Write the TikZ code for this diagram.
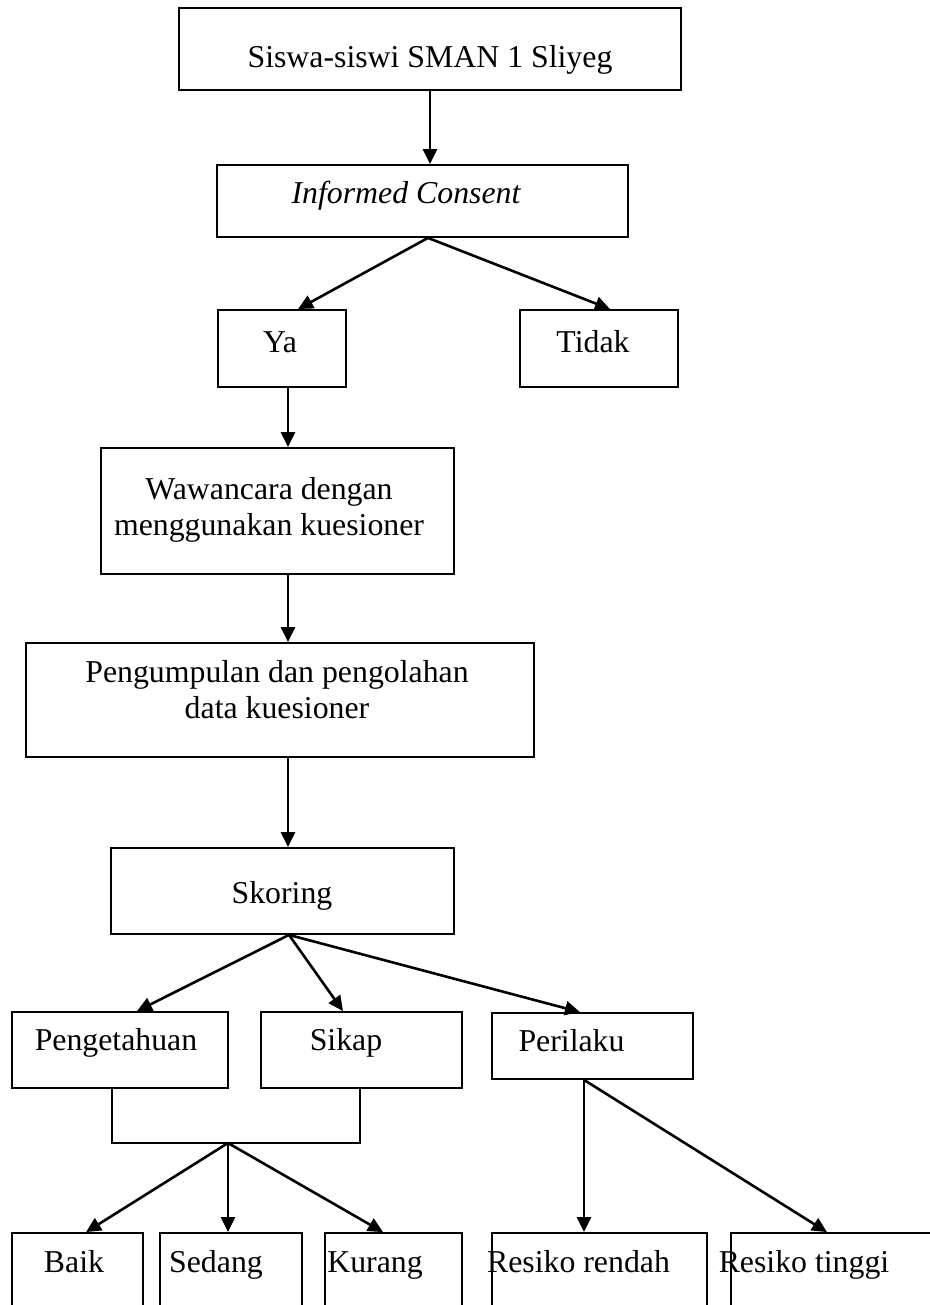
\documentclass[tikz,border=0pt]{standalone}
\usepackage{fontspec}
\setmainfont{Liberation Serif}
\usetikzlibrary{arrows.meta}

\tikzset{
  kotak/.style={draw=black, line width=0.9pt, inner sep=0pt},
  teks/.style={anchor=base, inner sep=0pt, font=\fontsize{15.9}{18}\selectfont},
  panah/.style={line width=1.3pt, -{Triangle[length=7.5pt,width=7pt]}}
}

\begin{document}
\begin{tikzpicture}[x=0.5pt, y=-0.5pt]
\useasboundingbox (0,0) rectangle (930,1305);
\clip (0,0) rectangle (930,1305);
% kotak-kotak
\node[kotak, minimum width=251pt, minimum height=41pt] (siswa) at (430,49) {};
\node[kotak, minimum width=205.5pt, minimum height=36pt] (ic) at (422.5,201) {};
\node[kotak, minimum width=64pt, minimum height=38.5pt] (ya) at (282,348.5) {};
\node[kotak, minimum width=79pt, minimum height=38.5pt] (tidak) at (599,348.5) {};
\node[kotak, minimum width=176.5pt, minimum height=63pt] (wawancara) at (277.5,511) {};
\node[kotak, minimum width=254pt, minimum height=57pt] (pengumpulan) at (280,700) {};
\node[kotak, minimum width=171.5pt, minimum height=43pt] (skoring) at (282.5,891) {};
\node[kotak, minimum width=108pt, minimum height=38pt] (pengetahuan) at (120,1050) {};
\node[kotak, minimum width=100.5pt, minimum height=38pt] (sikap) at (361.5,1050) {};
\node[kotak, minimum width=100.5pt, minimum height=33pt] (perilaku) at (592.5,1046) {};
\node[kotak, minimum width=65.5pt, minimum height=45pt] (baik) at (77.5,1278) {};
\node[kotak, minimum width=71pt, minimum height=45pt] (sedang) at (231,1278) {};
\node[kotak, minimum width=68.5pt, minimum height=45pt] (kurang) at (393.5,1278) {};
\node[kotak, minimum width=107.5pt, minimum height=45pt] (rendah) at (599.5,1278) {};
\node[kotak, minimum width=110pt, minimum height=45pt] (tinggi) at (841,1278) {};
% teks
\node[teks] (t-siswa) at (430,68) {Siswa-siswi SMAN 1 Sliyeg};
\node[teks] (t-ic) at (406,204) {\itshape Informed Consent};
\node[teks] (t-ya) at (280,352) {Ya};
\node[teks] (t-tidak) at (593,352) {Tidak};
\node[teks, align=center] (t-wawancara) at (269,535) {Wawancara dengan\\menggunakan kuesioner};
\node[teks, align=center] (t-pengumpulan) at (277,718) {Pengumpulan dan pengolahan\\data kuesioner};
\node[teks] (t-skoring) at (282,903) {Skoring};
\node[teks] (t-pengetahuan) at (116,1050) {Pengetahuan};
\node[teks] (t-sikap) at (346,1050) {Sikap};
\node[teks] (t-perilaku) at (571.5,1051) {Perilaku};
\node[teks] (t-baik) at (74,1272) {Baik};
\node[teks] (t-sedang) at (216,1272) {Sedang};
\node[teks] (t-kurang) at (375,1272) {Kurang};
\node[teks] (t-rendah) at (578.5,1272) {Resiko rendah};
\node[teks] (t-tinggi) at (804,1272) {Resiko tinggi};
\coordinate (gabung) at (228,1143);
% panah
\draw[panah] (siswa.south) -- (siswa.south |- ic.north);
\draw[panah] ([xshift=2.75pt]ic.south) -- ([xshift=8pt]ya.north);
\draw[panah] ([xshift=2.75pt]ic.south) -- ([xshift=5.5pt]tidak.north);
\draw[panah] ([xshift=3pt]ya.south) -- ([xshift=3pt]ya.south |- wawancara.north);
\draw[panah] ([xshift=5.25pt]wawancara.south) -- ([xshift=5.25pt]wawancara.south |- pengumpulan.north);
\draw[panah] ([xshift=4pt]pengumpulan.south) -- ([xshift=4pt]pengumpulan.south |- skoring.north);
\draw[panah] ([xshift=3.25pt]skoring.south) -- ([xshift=8.5pt]pengetahuan.north);
\draw[panah] ([xshift=3.25pt]skoring.south) -- ([xshift=-9.25pt]sikap.north);
\draw[panah] ([xshift=3.25pt]skoring.south) -- ([xshift=-6.25pt]perilaku.north);
\draw[line width=0.9pt] ([xshift=-4pt]pengetahuan.south) |- (gabung) -| ([xshift=-0.75pt]sikap.south);
\draw[panah] (gabung) -- ([xshift=4.25pt]baik.north);
\draw[panah] (gabung) -- (gabung |- sedang.north);
\draw[panah] (gabung) -- ([xshift=-5.25pt]kurang.north);
\draw[panah] ([xshift=-4.25pt]perilaku.south) -- ([xshift=-4.25pt]perilaku.south |- rendah.north);
\draw[panah] ([xshift=-4.25pt]perilaku.south) -- ([xshift=-7pt]tinggi.north);
\end{tikzpicture}
\end{document}
